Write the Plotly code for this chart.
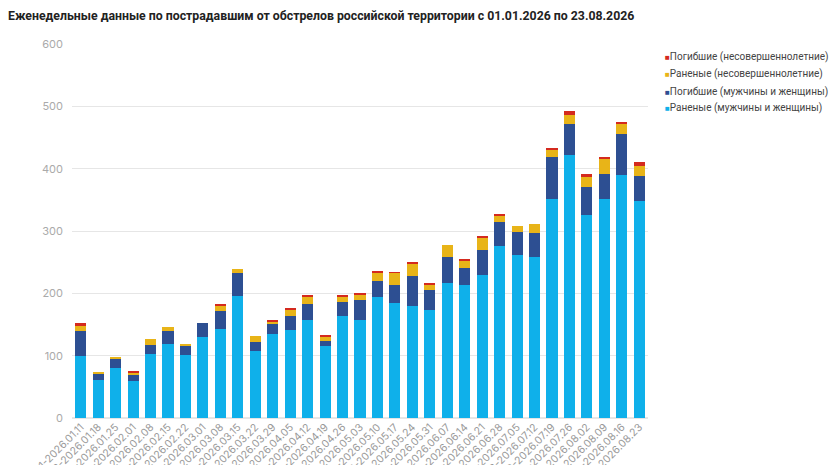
import plotly.graph_objects as go

# конец каждой недели
week_ends = [
    "2026.01.11", "2026.01.18", "2026.01.25", "2026.02.01", "2026.02.08",
    "2026.02.15", "2026.02.22", "2026.03.01", "2026.03.08", "2026.03.15",
    "2026.03.22", "2026.03.29", "2026.04.05", "2026.04.12", "2026.04.19",
    "2026.04.26", "2026.05.03", "2026.05.10", "2026.05.17", "2026.05.24",
    "2026.05.31", "2026.06.07", "2026.06.14", "2026.06.21", "2026.06.28",
    "2026.07.05", "2026.07.12", "2026.07.19", "2026.07.26", "2026.08.02",
    "2026.08.09", "2026.08.16", "2026.08.23",
]
week_starts = [
    "2026.01.01", "2026.01.12", "2026.01.19", "2026.01.26", "2026.02.02",
    "2026.02.09", "2026.02.16", "2026.02.23", "2026.03.02", "2026.03.09",
    "2026.03.16", "2026.03.23", "2026.03.30", "2026.04.06", "2026.04.13",
    "2026.04.20", "2026.04.27", "2026.05.04", "2026.05.11", "2026.05.18",
    "2026.05.25", "2026.06.01", "2026.06.08", "2026.06.15", "2026.06.22",
    "2026.06.29", "2026.07.06", "2026.07.13", "2026.07.20", "2026.07.27",
    "2026.08.03", "2026.08.10", "2026.08.17",
]

injured_adults = [99, 61, 80, 59, 103, 119, 101, 130, 143, 196, 108, 134, 141, 157, 115, 164, 157,
                  194, 185, 179, 173, 216, 213, 229, 276, 262, 259, 352, 422, 326, 352, 390, 348]
killed_adults = [41, 10, 14, 10, 14, 21, 15, 22, 29, 36, 14, 18, 22, 26, 9, 22, 32,
                 25, 28, 49, 32, 43, 27, 41, 39, 37, 38, 67, 49, 45, 39, 66, 40]
injured_minors = [8, 3, 4, 4, 9, 6, 2, 0, 8, 7, 10, 3, 11, 12, 7, 9, 9,
                  15, 20, 20, 9, 18, 13, 20, 10, 9, 15, 12, 15, 16, 24, 16, 17]
killed_minors = [4, 0, 0, 1, 0, 0, 0, 0, 3, 0, 0, 2, 2, 3, 1, 3, 1,
                 2, 1, 2, 3, 0, 2, 2, 3, 0, 0, 2, 6, 4, 4, 3, 6]

labels = [s + "-" + e for s, e in zip(week_starts, week_ends)]

series = [
    ("Раненые (мужчины и женщины)", injured_adults, "#0fb0ea"),
    ("Погибшие (мужчины и женщины)", killed_adults, "#2d4f92"),
    ("Раненые (несовершеннолетние)", injured_minors, "#e8b418"),
    ("Погибшие (несовершеннолетние)", killed_minors, "#d42a1e"),
]

fig = go.Figure()
for name, vals, color in series:
    fig.add_trace(go.Bar(x=labels, y=vals, name=name, marker_color=color,
                         marker_line_width=0, showlegend=False))

# легенда в виде подписей: маленький квадрат + текст, сверху вниз в обратном порядке
legend_y = [0.966, 0.921, 0.872, 0.828]
for (name, vals, color), yy in zip(reversed(series), legend_y):
    fig.add_annotation(
        xref="paper", yref="paper", x=1.026, y=yy, xanchor="left", yanchor="middle",
        showarrow=False, align="left",
        text=f"<span style='color:{color};font-size:8px'>■</span>{name}",
        font=dict(family="Roboto, sans-serif", size=10, color="#444444"),
    )

fig.update_layout(
    width=840, height=465,
    barmode="stack", bargap=0.36,
    paper_bgcolor="white", plot_bgcolor="white",
    font=dict(family="Inter, Roboto, sans-serif", size=11, color="#999999"),
    title=dict(text="<b>Еженедельные данные по пострадавшим от обстрелов российской территории с 01.01.2026 по 23.08.2026</b>",
               x=0, xanchor="left", y=0.983, yanchor="middle",
               font=dict(family="Roboto, sans-serif", size=12.3, color="#222222")),
    margin=dict(l=64, r=200, t=36, b=55, autoexpand=False),
)
fig.update_xaxes(tickangle=-45, showgrid=False, showline=False, ticks="",
                 tickfont=dict(size=10.5, color="#999999"), automargin=False)
fig.update_yaxes(range=[0, 600], dtick=100, gridcolor="#e6e6e6", zeroline=True,
                 zerolinecolor="#e6e6e6", ticks="", tickfont=dict(size=11, color="#aaaaaa"),
                 ticklabelstandoff=8, automargin=False)

fig.write_html("out.html")
